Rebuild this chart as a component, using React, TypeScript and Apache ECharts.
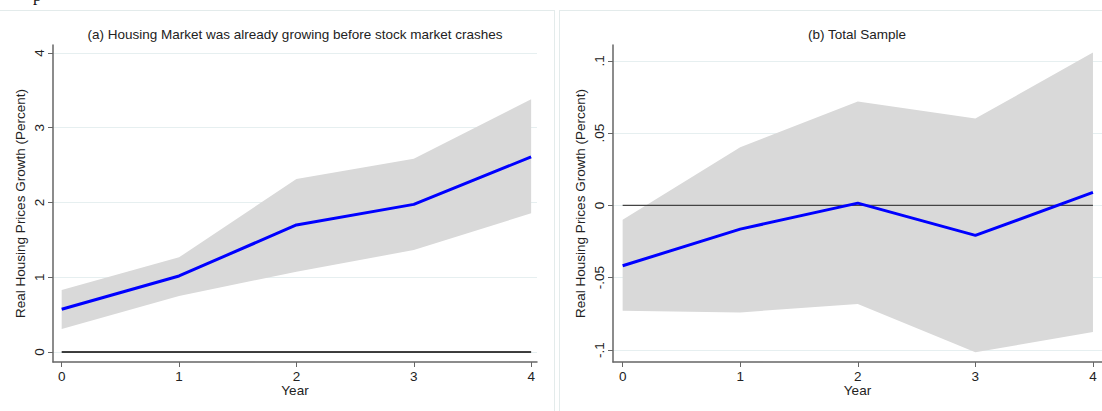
import React, { useEffect, useRef } from "react";
import * as echarts from "echarts";

const years = [0, 1, 2, 3, 4];
const aEst = [0.571, 1.017, 1.7, 1.975, 2.61];
const aUpper = [0.83, 1.266, 2.314, 2.586, 3.38];
const aLower = [0.308, 0.749, 1.074, 1.364, 1.855];
const bEst = [-0.0417, -0.0164, 0.0016, -0.0207, 0.009];
const bUpper = [-0.0099, 0.0403, 0.0719, 0.0601, 0.1058];
const bLower = [-0.0728, -0.074, -0.0682, -0.1016, -0.0876];
const aTicks = [0, 1, 2, 3, 4];
const bTicks = [-0.1, -0.05, 0, 0.05, 0.1];
const bTickLabels = ["-.1", "-.05", "0", ".05", ".1"];
const titleA = "(a) Housing Market was already growing before stock market crashes";
const titleB = "(b) Total Sample";
const yName = "Real Housing Prices Growth (Percent)";
const xName = "Year";

const FONT = "Liberation Sans";
const FS = 13.5;
const AXIS_COLOR = "#666";
const GRID_COLOR = "#e6eff0";
const BORDER_COLOR = "#e3ebeb";

function bandSeries(idx: number, lower: number[], upper: number[]) {
  return {
    type: "custom",
    xAxisIndex: idx,
    yAxisIndex: idx,
    z: 1,
    silent: true,
    data: years.map((y, i) => [y, lower[i], upper[i]]),
    encode: { x: 0, y: [1, 2] },
    renderItem: (params: any, api: any) => {
      if (params.dataIndex !== 0) return null;
      const top = years.map((y, i) => api.coord([y, upper[i]]));
      const bot = years.map((y, i) => api.coord([y, lower[i]])).reverse();
      return {
        type: "polygon",
        shape: { points: [...top, ...bot] },
        style: { fill: "#d9d9d9", stroke: "none" },
      };
    },
  };
}

function xAxisCfg(idx: number, min: number, max: number) {
  return {
    type: "value",
    gridIndex: idx,
    min,
    max,
    name: xName,
    nameLocation: "middle",
    nameGap: 21,
    nameMoveOverlap: false,
    nameTextStyle: { fontFamily: FONT, fontSize: FS, color: "#222" },
    axisLine: { show: true, onZero: false, lineStyle: { color: AXIS_COLOR, width: 1.5 } },
    axisTick: { show: true, customValues: years, length: 5, lineStyle: { color: AXIS_COLOR, width: 1 } },
    axisLabel: { show: true, customValues: years, fontFamily: FONT, fontSize: FS, color: "#222", margin: 7 },
    splitLine: { show: false },
  };
}

function yAxisCfg(idx: number, min: number, max: number, ticks: number[], fmt: (v: number) => string) {
  return {
    type: "value",
    gridIndex: idx,
    min,
    max,
    name: yName,
    nameLocation: "middle",
    nameGap: 26,
    nameTextStyle: { fontFamily: FONT, fontSize: FS, color: "#222" },
    axisLine: { show: true, onZero: false, lineStyle: { color: AXIS_COLOR, width: 1.5 } },
    axisTick: { show: true, customValues: ticks, length: 5, lineStyle: { color: AXIS_COLOR, width: 1 } },
    axisLabel: {
      show: true,
      customValues: ticks,
      rotate: 90,
      fontFamily: FONT,
      fontSize: FS,
      color: "#222",
      margin: 7,
      formatter: (v: number) => fmt(v),
    },
    splitLine: { show: true, lineStyle: { color: GRID_COLOR, width: 1 } },
  };
}

export default function App() {
  const ref = useRef<HTMLDivElement>(null);
  useEffect(() => {
    if (!ref.current) return;
    const chart = echarts.init(ref.current, undefined, { renderer: "svg" });
    const option: any = {
      animation: false,
      backgroundColor: "#ffffff",
      grid: [
        { left: 53, top: 45, width: 484, height: 317 },
        { left: 613, top: 45, width: 489, height: 317 },
      ],
      xAxis: [xAxisCfg(0, -0.074, 4.05), xAxisCfg(1, -0.082, 4.077)],
      yAxis: [
        yAxisCfg(0, -0.134, 4.107, aTicks, (v) => String(Math.round(v))),
        yAxisCfg(1, -0.1083, 0.111, bTicks, (v) => {
          const i = bTicks.findIndex((t) => Math.abs(t - v) < 1e-9);
          return i >= 0 ? bTickLabels[i] : "";
        }),
      ],
      series: [
        bandSeries(0, aLower, aUpper),
        {
          type: "line",
          xAxisIndex: 0,
          yAxisIndex: 0,
          z: 2,
          silent: true,
          symbol: "none",
          data: [[years[0], 0], [years[years.length - 1], 0]],
          lineStyle: { color: "#000", width: 1.3 },
        },
        {
          type: "line",
          xAxisIndex: 0,
          yAxisIndex: 0,
          z: 3,
          silent: true,
          symbol: "none",
          data: years.map((y, i) => [y, aEst[i]]),
          lineStyle: { color: "#0000ff", width: 3 },
        },
        bandSeries(1, bLower, bUpper),
        {
          type: "line",
          xAxisIndex: 1,
          yAxisIndex: 1,
          z: 2,
          silent: true,
          symbol: "none",
          data: [[years[0], 0], [years[years.length - 1], 0]],
          lineStyle: { color: "#444", width: 1.3 },
        },
        {
          type: "line",
          xAxisIndex: 1,
          yAxisIndex: 1,
          z: 3,
          silent: true,
          symbol: "none",
          data: years.map((y, i) => [y, bEst[i]]),
          lineStyle: { color: "#0000ff", width: 3 },
        },
      ],
      graphic: [
        { type: "line", shape: { x1: 0, y1: 10.5, x2: 554, y2: 10.5 }, style: { stroke: BORDER_COLOR, lineWidth: 1 } },
        { type: "line", shape: { x1: 554.5, y1: 10, x2: 554.5, y2: 411 }, style: { stroke: BORDER_COLOR, lineWidth: 1 } },
        { type: "line", shape: { x1: 559, y1: 10.5, x2: 1102, y2: 10.5 }, style: { stroke: BORDER_COLOR, lineWidth: 1 } },
        { type: "line", shape: { x1: 559.5, y1: 10, x2: 559.5, y2: 411 }, style: { stroke: BORDER_COLOR, lineWidth: 1 } },
        {
          type: "text",
          x: 295,
          y: 34,
          style: { text: titleA, fontFamily: FONT, fontSize: FS, fill: "#222", textAlign: "center", textVerticalAlign: "middle" },
        },
        {
          type: "text",
          x: 857,
          y: 34,
          style: { text: titleB, fontFamily: FONT, fontSize: FS, fill: "#222", textAlign: "center", textVerticalAlign: "middle" },
        },
        {
          type: "text",
          x: 33,
          y: -13,
          style: { text: "p", fontFamily: "Liberation Serif", fontSize: 17, fill: "#111" },
        },
      ],
    };
    chart.setOption(option);
    return () => chart.dispose();
  }, []);
  return (
    <div
      ref={ref}
      style={{ position: "fixed", left: 0, top: 0, width: 1102, height: 411, background: "#fff" }}
    />
  );
}
